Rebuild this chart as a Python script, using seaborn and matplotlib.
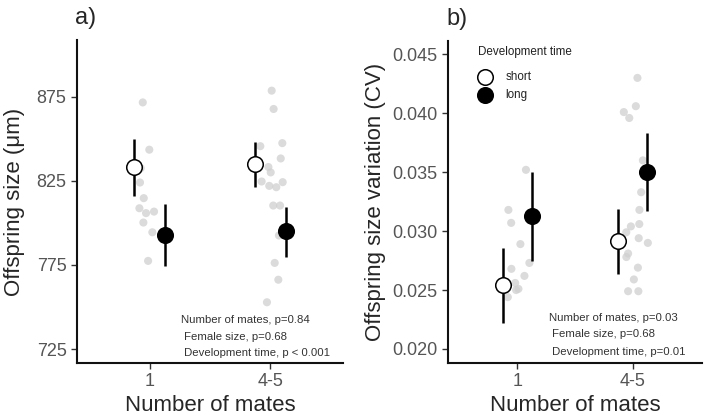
import numpy as np
import pandas as pd
import matplotlib
matplotlib.use('Agg')
import matplotlib.pyplot as plt
import seaborn as sns

# categories
mates = ['1', '4-5']
dev_levels = ['short', 'long']

# panel a: raw offspring size (um), per mating group, with jitter
size_vals_1 = [871.6, 843.5, 832.5, 824.0, 814.7, 808.7, 805.8, 806.7, 800.2, 794.4, 777.4]
size_jit_1 = [-0.056, -0.002, -0.073, -0.079, -0.048, -0.084, -0.029, 0.037, -0.051, 0.023, -0.012]
size_vals_45 = [878.6, 867.7, 845.6, 847.4, 838.3, 833.2, 830.0, 824.6, 822.0, 821.2, 824.2,
                810.3, 810.3, 794.4, 792.5, 776.2, 766.2, 752.8]
size_jit_45 = [0.010, 0.026, -0.084, 0.098, 0.085, -0.017, 0.002, -0.073, -0.010, 0.048, 0.101,
               0.023, 0.079, 0.128, 0.070, 0.035, 0.065, -0.029]

# panel a: model means and intervals (short, long) x (1, 4-5)
size_mean = {'short': [833.0, 835.0], 'long': [793.0, 795.0]}
size_lo = {'short': [816.0, 821.6], 'long': [774.6, 780.0]}
size_hi = {'short': [850.0, 848.0], 'long': [811.0, 809.5]}

# panel b: CV of offspring size
cv_vals_1 = [0.0352, 0.0318, 0.0307, 0.0289, 0.0273, 0.0268, 0.0262, 0.0256, 0.0251, 0.0250, 0.0244]
cv_jit_1 = [0.075, -0.077, -0.053, 0.027, 0.105, -0.051, 0.062, -0.018, 0.010, -0.010, -0.082]
cv_vals_45 = [0.0430, 0.0406, 0.0401, 0.0396, 0.0360, 0.0333, 0.0318, 0.0304, 0.0306, 0.0299,
              0.0294, 0.0290, 0.0281, 0.0278, 0.0269, 0.0259, 0.0249, 0.0249]
cv_jit_45 = [0.041, 0.027, -0.077, -0.030, 0.088, 0.073, 0.058, -0.016, 0.057, -0.056,
             0.052, 0.131, -0.040, -0.055, 0.045, 0.010, -0.040, 0.049]

cv_mean = {'short': [0.0254, 0.0292], 'long': [0.0313, 0.0350]}
cv_lo = {'short': [0.0222, 0.0264], 'long': [0.0275, 0.0317]}
cv_hi = {'short': [0.0286, 0.0319], 'long': [0.0350, 0.0383]}

stats_a = ['Number of mates, p=0.84', ' Female size, p=0.68', ' Development time, p < 0.001']
stats_b = ['Number of mates, p=0.03', ' Female size, p=0.68', ' Development time, p=0.01']

DODGE = {'short': -0.125, 'long': 0.125}
FACE = {'short': 'white', 'long': 'black'}


def raw_frame(vals_1, jit_1, vals_45, jit_45):
    rows = []
    for i, (vals, jit) in enumerate([(vals_1, jit_1), (vals_45, jit_45)]):
        for v, j in zip(vals, jit):
            rows.append({'mates': mates[i], 'x': i + j, 'y': v})
    return pd.DataFrame(rows)


def mean_frame(mean, lo, hi):
    rows = []
    for dev in dev_levels:
        for i, m in enumerate(mates):
            rows.append({'mates': m, 'dev': dev, 'x': i + DODGE[dev],
                         'y': mean[dev][i], 'lo': lo[dev][i], 'hi': hi[dev][i]})
    return pd.DataFrame(rows)


def draw_panel(ax, raw, means, ylabel, yticks, ylim, fmt, stats, stats_x, stats_y, tag):
    sns.scatterplot(data=raw, x='x', y='y', ax=ax, color='#cfcfcf', alpha=0.75,
                    s=34, edgecolor='none', legend=False, zorder=1)
    ax.vlines(means['x'], means['lo'], means['hi'], color='black', lw=1.8, zorder=2)
    for dev in dev_levels:
        sub = means[means['dev'] == dev]
        sns.scatterplot(data=sub, x='x', y='y', ax=ax, s=125, marker='o',
                        facecolor=FACE[dev], edgecolor='black', linewidth=1.1,
                        label=dev, zorder=3)
    ax.set_xlim(-0.6, 1.6)
    ax.set_xticks([0, 1])
    ax.set_xticklabels(mates)
    ax.set_ylim(*ylim)
    ax.set_yticks(yticks)
    ax.set_yticklabels([fmt.format(t) for t in yticks])
    ax.set_xlabel('Number of mates', fontsize=16)
    ax.set_ylabel(ylabel, fontsize=16)
    ax.tick_params(axis='both', labelsize=13, labelcolor='#555555', color='#333333',
                   length=4, width=1.0)
    for side in ['left', 'bottom']:
        ax.spines[side].set_linewidth(1.5)
        ax.spines[side].set_color('#111111')
    sns.despine(ax=ax)
    for txt, yy in zip(stats, stats_y):
        ax.text(stats_x, yy, txt, transform=ax.transAxes, fontsize=8.2,
                color='#333333', ha='left', va='center')
    ax.text(-0.008, 1.068, tag, transform=ax.transAxes, fontsize=17,
            ha='left', va='center')


def main():
    sns.set_theme(style='ticks')
    plt.rcParams['font.family'] = ['Liberation Sans', 'DejaVu Sans']

    fig = plt.figure(figsize=(7.09, 4.16), dpi=100)
    ax_a = fig.add_axes([0.1086, 0.1274, 0.3752, 0.7764])
    ax_b = fig.add_axes([0.6319, 0.1274, 0.3582, 0.7740])

    raw_a = raw_frame(size_vals_1, size_jit_1, size_vals_45, size_jit_45)
    raw_b = raw_frame(cv_vals_1, cv_jit_1, cv_vals_45, cv_jit_45)
    means_a = mean_frame(size_mean, size_lo, size_hi)
    means_b = mean_frame(cv_mean, cv_lo, cv_hi)

    draw_panel(ax_a, raw_a, means_a, 'Offspring size (\u03bcm)', [725, 775, 825, 875],
               (716.7, 908.7), '{:.0f}', stats_a, 0.391, [0.133, 0.080, 0.031], 'a)')
    draw_panel(ax_b, raw_b, means_b, 'Offspring size variation (CV)',
               [0.020, 0.025, 0.030, 0.035, 0.040, 0.045],
               (0.01881, 0.04613), '{:.3f}', stats_b, 0.398, [0.140, 0.090, 0.034], 'b)')

    ax_a.get_legend().remove()
    ax_a.yaxis.set_label_coords(-0.194, 0.5)
    ax_b.yaxis.set_label_coords(-0.245, 0.5)
    ax_a.xaxis.set_label_coords(0.5, -0.10)
    ax_b.xaxis.set_label_coords(0.5, -0.10)

    leg = ax_b.legend(title='Development time', loc='upper left', bbox_to_anchor=(0.12, 0.983),
                      frameon=False, fontsize=8.4, title_fontsize=8.4, borderpad=0,
                      borderaxespad=0, labelspacing=0.5, handlelength=1.2, handletextpad=1.1)
    leg._legend_box.align = 'left'
    leg._legend_box.sep = 9
    leg.get_title().set_color('#222222')
    for t in leg.get_texts():
        t.set_color('#222222')

    fig.savefig('out.png', dpi=100)
    plt.close(fig)


if __name__ == '__main__':
    main()
